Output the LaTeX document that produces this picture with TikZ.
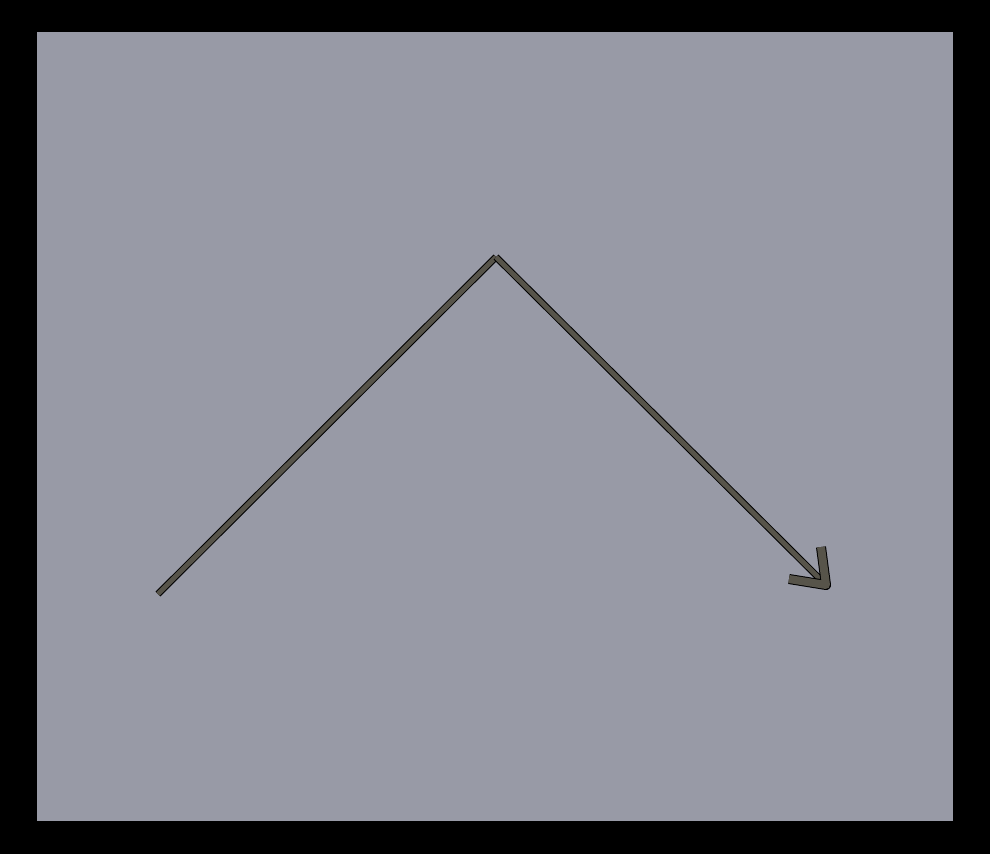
\documentclass[tikz,border=0pt]{standalone}
\usepackage{tikz}
\definecolor{bgpanel}{HTML}{989AA6}
\definecolor{strokefill}{HTML}{57544A}
\tikzset{
  shaft/.style={line width=1pt, draw=black, double=strokefill, double distance=4.8pt, line cap=butt},
  armstroke/.style={line width=1pt, draw=black, double=strokefill, double distance=8pt, line join=round, line cap=butt},
}
\begin{document}
\begin{tikzpicture}[x=1pt,y=-1pt]
\useasboundingbox (0,0) rectangle (990,854);
\fill[black] (0,0) rectangle (990,854);
\fill[bgpanel] (37,32) rectangle (953,821);
\coordinate (start) at (158,594);
\coordinate (apex) at (496,257);
\coordinate (tip) at (826,585);
\coordinate (armA) at (821,547);
\coordinate (armB) at (789,579);
\draw[shaft] (start) -- (apex);
\draw[shaft] (apex) -- (tip);
\draw[armstroke] (armA) -- (tip) -- (armB);
\end{tikzpicture}
\end{document}
